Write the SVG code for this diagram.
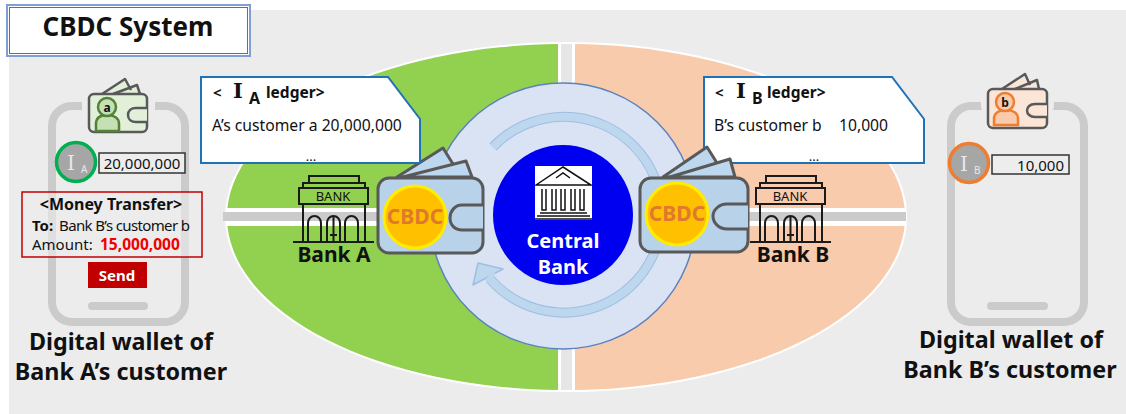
<svg xmlns="http://www.w3.org/2000/svg" xmlns:xlink="http://www.w3.org/1999/xlink" width="1126" height="414" viewBox="0 0 1126 414">
<style>
text{font-family:"Noto Sans","Open Sans","Liberation Sans",sans-serif;fill:#111}
.b{font-weight:700}
.m{text-anchor:middle}
.w{stroke:#595959;stroke-width:3;stroke-linejoin:round}
.bill{fill:#bdd7ee}
.case{fill:#b8d2ea}
.bk{fill:none;stroke:#1a1a1a;stroke-width:2}
.phone{fill:none;stroke:#cbcbcb;stroke-width:8}
.bar{fill:#cbcbcb}
.ser{font-family:"DejaVu Serif","Liberation Serif",serif}
.coin{fill:#ffc000;stroke:#ffec00;stroke-width:3}
.cb{fill:#e0782f;font-size:21px;font-weight:700;text-anchor:middle}
.ledger{fill:#fff;stroke:#1f72b8;stroke-width:2}
</style>
<defs>
<clipPath id="tl"><rect x="0" y="0" width="558" height="208"/></clipPath>
<clipPath id="bl"><rect x="0" y="226" width="558" height="188"/></clipPath>
<clipPath id="tr"><rect x="575" y="0" width="551" height="208"/></clipPath>
<clipPath id="br"><rect x="575" y="226" width="551" height="188"/></clipPath>
<g id="bankShape">
<rect class="bk" x="10" y="0" width="50" height="7"/>
<rect class="bk" x="4" y="7" width="62" height="5"/>
<rect class="bk" x="0" y="12" width="69" height="16"/>
<path class="bk" d="M4 28V66M66 28V66M-6 66H75"/>
<path class="bk" d="M9 66V47a6.500 7 0 0 1 13 0V66M28 66V47a6.500 7 0 0 1 13 0V66M46 66V47a6.500 7 0 0 1 13 0V66M34.500 40V66M31 59H38"/>
</g>
</defs>
<rect id="background" x="9" y="10" width="1117" height="404" fill="#ececec"/>
<g id="connectors">
<ellipse cx="566" cy="217" rx="341" ry="175" fill="#fff"/>
<g>
<ellipse cx="566" cy="217" rx="339" ry="173" fill="#92d050" clip-path="url(#tl)"/>
<ellipse cx="566" cy="217" rx="339" ry="173" fill="#92d050" clip-path="url(#bl)"/>
<ellipse cx="566" cy="217" rx="339" ry="173" fill="#f8cbad" clip-path="url(#tr)"/>
<ellipse cx="566" cy="217" rx="339" ry="173" fill="#f8cbad" clip-path="url(#br)"/>
</g>
<rect x="561" y="44" width="11" height="346" fill="#e6e6e6"/>
<rect x="223" y="212" width="683" height="9" fill="#cbcbcb"/>
</g>
<g id="central-ring">
<circle cx="563" cy="216" r="133" fill="#dae3f3" stroke="#5b82bd" stroke-width="1.500"/>
<path d="M493 147A98 98 0 1 1 490 279" fill="none" stroke="#9fbfe0" stroke-width="10"/>
<path d="M493 147A98 98 0 1 1 490 279" fill="none" stroke="#bdd7ee" stroke-width="8"/>
<path d="M473 285L478 263L503 269Z" fill="#bdd7ee" stroke="#9fbfe0" stroke-width="1.500" stroke-linejoin="round"/>
<path d="M486 281L494 272" stroke="#bdd7ee" stroke-width="3" fill="none"/>
</g>
<g id="central-bank">
<circle cx="563" cy="215" r="70" fill="#0000f0"/>
<rect x="535" y="166" width="57" height="54" fill="#fff"/>
<path d="M536 185L563 167L591 185Z" fill="#fff" stroke="#111" stroke-width="1.500"/>
<path d="M556 178L563 173L570 178" fill="none" stroke="#111" stroke-width="1.500"/>
<path d="M542 189V210H546V189M552 189V210H556V189M561 189V210H565V189M571 189V210H575V189M580 189V210H584V189" fill="none" stroke="#111" stroke-width="1.500"/>
<path d="M540 213H587M537 216H590M535 219H592" stroke="#111" stroke-width="1.500" fill="none"/>
<text class="b m" x="563" y="248" font-size="20" style="fill:#fff">Central</text>
<text class="b m" x="563" y="274" font-size="20" style="fill:#fff">Bank</text>
</g>
<g id="title">
<rect x="7" y="5" width="243" height="51" fill="#fff" stroke="#7f9fd6" stroke-width="2"/>
<rect x="9.500" y="7.500" width="238" height="46" fill="none" stroke="#4472c4" stroke-width="1"/>
<text class="b m" x="128" y="36" font-size="26">CBDC System</text>
</g>
<g id="phone-a">
<rect class="phone" x="52" y="106" width="133" height="216" rx="20"/>
<rect class="bar" x="88" y="302" width="60" height="8" rx="4"/>
<path d="M82 98H155V108C155 120 140 125 118 125C96 125 82 120 82 108Z" fill="#ececec"/>
<path class="w" style="stroke-width:2.500" d="M102 94L125 79L131 90M113 94L137 85L140 94" fill="#e2efd9"/>
<rect class="w" style="stroke-width:2.500" x="89" y="94" width="58" height="38" rx="5" fill="#e2efd9"/>
<path class="w" style="stroke-width:2.500" d="M147 108H136C131 108 128 111 128 115C128 119 131 122 136 122H147" fill="#e2efd9"/>
<path d="M96 131V124C96 118 100 115 107 115C114 115 119 118 119 124V131Z" fill="#c5e0b4" stroke="#548235" stroke-width="2.500"/>
<circle cx="107" cy="107" r="9" fill="#c5e0b4" stroke="#548235" stroke-width="2.500"/>
<text class="b m" x="107" y="112" font-size="12">a</text>
</g>
<g id="account-a">
<circle cx="76" cy="162" r="19.500" fill="#a6a6a6" stroke="#00b050" stroke-width="3.500"/>
<text class="ser" x="67" y="170" font-size="20" style="fill:#e8e8e8">I</text>
<text x="81" y="173" font-size="10" style="fill:#e8e8e8">A</text>
<rect x="99" y="153" width="86" height="20" fill="#ededed" stroke="#333" stroke-width="1.500"/>
<text class="m" x="142" y="169" font-size="15">20,000,000</text>
</g>
<g id="money-transfer">
<rect x="22" y="192" width="180" height="65" fill="#ececec" fill-opacity=".6" stroke="#c00000" stroke-width="1.500"/>
<text class="b m" x="111" y="210" font-size="16">&lt;Money Transfer&gt;</text>
<text class="b" x="32" y="231" font-size="15">To:</text>
<text x="59" y="231" font-size="15" textLength="131">Bank B’s customer b</text>
<text x="32" y="250" font-size="15">Amount:</text>
<text class="b" x="100" y="250" font-size="15.500" style="fill:#f00000">15,000,000</text>
</g>
<g id="send">
<rect x="88" y="262" width="59" height="26" fill="#c00000"/>
<text class="b m" x="117" y="281" font-size="15" style="fill:#fff">Send</text>
</g>
<g id="label-a">
<text class="b m" x="121" y="350" font-size="23.300">Digital wallet of</text>
<text class="b m" x="121" y="380" font-size="23.300">Bank A’s customer</text>
</g>
<g id="bank-a">
<rect x="299" y="188" width="69" height="16" fill="#92d050"/>
<use xlink:href="#bankShape" href="#bankShape" x="299" y="176"/>
<text class="m" x="333" y="201" font-size="13">BANK</text>
<text class="b m" x="334" y="262" font-size="21">Bank A</text>
</g>
<g id="wallet-a">
<path class="w bill" d="M397 177L443 148L453 164L440 177Z"/>
<path class="w bill" d="M403 177L466 161L472 177Z"/>
<rect class="w case" x="378" y="178" width="105" height="75" rx="11"/>
<path class="w" d="M483 205H462C455 205 450 211 450 218C450 225 455 230 462 230H483" fill="#b8d2ea"/>
<circle class="coin" cx="415" cy="217" r="31"/>
<text class="cb" x="415" y="224">CBDC</text>
</g>
<g id="ledger-a">
<path class="ledger" d="M201 77H388L420 119V163H201Z"/>
<text class="b" x="213" y="98" font-size="15">&lt;</text>
<text class="ser b" x="233" y="98" font-size="21">I</text>
<text class="b" x="249" y="104" font-size="16">A</text>
<text class="b" x="266" y="98" font-size="15.500">ledger&gt;</text>
<text x="212" y="131" font-size="15.700">A’s customer a 20,000,000</text>
<text class="m" x="311" y="161" font-size="13">...</text>
</g>
<g id="bank-b">
<rect x="756" y="188" width="69" height="16" fill="#f8cbad"/>
<use xlink:href="#bankShape" href="#bankShape" x="756" y="176"/>
<text class="m" x="790" y="201" font-size="13">BANK</text>
<text class="b m" x="793" y="262" font-size="21">Bank B</text>
</g>
<g id="ledger-b">
<path class="ledger" d="M704 77H892L924 119V163H704Z"/>
<text class="b" x="715" y="98" font-size="15">&lt;</text>
<text class="ser b" x="736" y="98" font-size="21">I</text>
<text class="b" x="752" y="104" font-size="16">B</text>
<text class="b" x="767" y="98" font-size="15.500">ledger&gt;</text>
<text x="714" y="131" font-size="15.700">B’s customer b</text>
<text x="839" y="131" font-size="15.700">10,000</text>
<text class="m" x="814" y="161" font-size="13">...</text>
</g>
<g id="wallet-b">
<path class="w bill" d="M663 177L707 147L717 163L705 177Z"/>
<path class="w bill" d="M670 177L730 159L735 177Z"/>
<rect class="w case" x="640" y="178" width="108" height="74" rx="11"/>
<path class="w" d="M748 204H727C719 204 713 210 713 216C713 223 719 229 727 229H748" fill="#b8d2ea"/>
<circle class="coin" cx="677" cy="214" r="31"/>
<text class="cb" x="677" y="221">CBDC</text>
</g>
<g id="phone-b">
<rect class="phone" x="951" y="106" width="133" height="216" rx="20"/>
<rect class="bar" x="987" y="302" width="61" height="8" rx="4"/>
<path d="M981 98H1054V105C1054 116 1040 122 1017 122C995 122 981 116 981 105Z" fill="#ececec"/>
<path class="w" style="stroke-width:2.500" d="M1002 89L1025 74L1030 85M1015 89L1037 80L1039 89" fill="#fbe5d6"/>
<rect class="w" style="stroke-width:2.500" x="988" y="89" width="59" height="39" rx="5" fill="#fbe5d6"/>
<path class="w" style="stroke-width:2.500" d="M1047 104H1035C1030 104 1027 107 1027 110.500C1027 114 1030 117 1035 117H1047" fill="#fbe5d6"/>
<path d="M994 125V119C994 113 999 110 1006 110C1013 110 1018 113 1018 119V125Z" fill="#f8cbad" stroke="#ed7d31" stroke-width="2.500"/>
<circle cx="1005" cy="102" r="9" fill="#f8cbad" stroke="#ed7d31" stroke-width="2.500"/>
<text class="b m" x="1005" y="107" font-size="12">b</text>
</g>
<g id="account-b">
<circle cx="969" cy="163" r="19.500" fill="#a6a6a6" stroke="#ed7d31" stroke-width="3.500"/>
<text class="ser" x="960" y="171" font-size="20" style="fill:#e8e8e8">I</text>
<text x="974" y="174" font-size="10" style="fill:#e8e8e8">B</text>
<rect x="992" y="155" width="77" height="19" fill="#ededed" stroke="#333" stroke-width="1.500"/>
<text x="1064" y="171" font-size="15" text-anchor="end">10,000</text>
</g>
<g id="label-b">
<text class="b m" x="1011" y="348" font-size="23.300">Digital wallet of</text>
<text class="b m" x="1010" y="378" font-size="23.300">Bank B’s customer</text>
</g>
</svg>
